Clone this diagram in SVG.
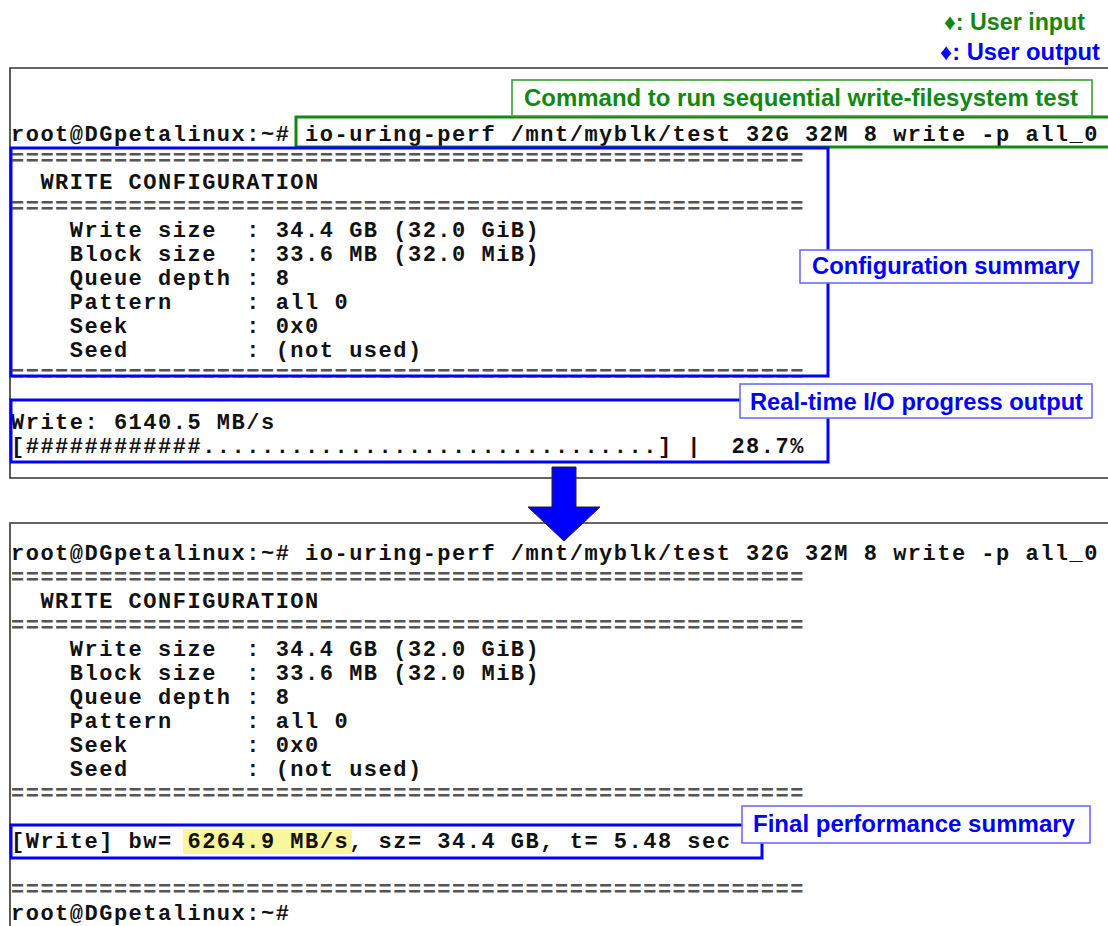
<svg xmlns="http://www.w3.org/2000/svg" width="1108" height="926" viewBox="0 0 1108 926">
  <style>
    .term { fill: none; stroke: #333; stroke-width: 1.6; }
    .tt { font-family: "Liberation Mono", "DejaVu Sans Mono", monospace; font-weight: bold; font-size: 22px; letter-spacing: 1.5px; fill: #111; white-space: pre; }
    .rule { fill: #555; }
    .lbl { font-family: "Liberation Sans", "DejaVu Sans", Arial, sans-serif; font-weight: bold; font-size: 23px; }
    .blue-box { fill: none; stroke: #0000ff; stroke-width: 3; }
    .green-box { fill: none; stroke: #108a10; stroke-width: 3; }
    .tag-blue { fill: #fff; stroke: #6b6bff; stroke-width: 1.6; }
    .tag-green { fill: #fff; stroke: #3a9e3a; stroke-width: 1.6; }
    .t-blue { fill: #0000ff; }
    .t-green { fill: #128812; }
  </style>

  <rect width="1108" height="926" fill="#fff"/>

  <!-- Legend -->
  <g id="legend">
    <text class="lbl t-green" x="944" y="30" textLength="141" lengthAdjust="spacingAndGlyphs">♦: User input</text>
    <text class="lbl t-blue" x="940" y="60" textLength="160" lengthAdjust="spacingAndGlyphs">♦: User output</text>
  </g>

  <!-- Terminal window 1: running test -->
  <g id="terminal-running">
    <path class="term" d="M1108 68 H10 V478 H1108"/>
    <text class="tt" x="11" y="141">root@DGpetalinux:~# io-uring-perf /mnt/myblk/test 32G 32M 8 write -p all_0</text>
    <text class="tt rule" x="11" y="165">======================================================</text>
    <text class="tt" x="11" y="189">  WRITE CONFIGURATION</text>
    <text class="tt rule" x="11" y="213">======================================================</text>
    <text class="tt" x="11" y="237">    Write size  : 34.4 GB (32.0 GiB)</text>
    <text class="tt" x="11" y="261">    Block size  : 33.6 MB (32.0 MiB)</text>
    <text class="tt" x="11" y="285">    Queue depth : 8</text>
    <text class="tt" x="11" y="309">    Pattern     : all 0</text>
    <text class="tt" x="11" y="333">    Seek        : 0x0</text>
    <text class="tt" x="11" y="357">    Seed        : (not used)</text>
    <text class="tt rule" x="11" y="381">======================================================</text>
    <text class="tt" x="11" y="429">Write: 6140.5 MB/s</text>
    <text class="tt" x="11" y="453">[############...............................] |  28.7%</text>
  </g>

  <!-- Terminal window 2: finished test -->
  <g id="terminal-finished">
    <path class="term" d="M1108 523 H10 V926"/>
    <rect x="183" y="829" width="169" height="25" fill="#fbf59c"/>
    <text class="tt" x="11" y="560">root@DGpetalinux:~# io-uring-perf /mnt/myblk/test 32G 32M 8 write -p all_0</text>
    <text class="tt rule" x="11" y="584">======================================================</text>
    <text class="tt" x="11" y="608">  WRITE CONFIGURATION</text>
    <text class="tt rule" x="11" y="632">======================================================</text>
    <text class="tt" x="11" y="656">    Write size  : 34.4 GB (32.0 GiB)</text>
    <text class="tt" x="11" y="680">    Block size  : 33.6 MB (32.0 MiB)</text>
    <text class="tt" x="11" y="704">    Queue depth : 8</text>
    <text class="tt" x="11" y="728">    Pattern     : all 0</text>
    <text class="tt" x="11" y="752">    Seek        : 0x0</text>
    <text class="tt" x="11" y="776">    Seed        : (not used)</text>
    <text class="tt rule" x="11" y="800">======================================================</text>
    <text class="tt" x="11" y="848">[Write] bw= 6264.9 MB/s, sz= 34.4 GB, t= 5.48 sec</text>
    <text class="tt rule" x="11" y="896">======================================================</text>
    <text class="tt" x="11" y="920">root@DGpetalinux:~#</text>
  </g>

  <!-- Highlight frames and transition arrow -->
  <g id="connectors">
    <rect class="green-box" x="296" y="117" width="830" height="30"/>
    <rect class="blue-box" x="11" y="148" width="817" height="228"/>
    <rect class="blue-box" x="11" y="400" width="817" height="62"/>
    <rect class="blue-box" x="11" y="825" width="751" height="33"/>
    <polygon points="552,467 576,467 576,507 600,507 564,541 528,507 552,507" fill="#0000ff" stroke="#222" stroke-width="1"/>
  </g>

  <!-- Callout tags -->
  <g id="tag-command">
    <rect class="tag-green" x="512" y="80" width="580" height="36"/>
    <text class="lbl t-green" x="524" y="106" textLength="554" lengthAdjust="spacingAndGlyphs">Command to run sequential write-filesystem test</text>
  </g>
  <g id="tag-config">
    <rect class="tag-blue" x="800" y="250" width="292" height="33"/>
    <text class="lbl t-blue" x="812" y="274" textLength="268" lengthAdjust="spacingAndGlyphs">Configuration summary</text>
  </g>
  <g id="tag-progress">
    <rect class="tag-blue" x="740" y="384" width="352" height="34"/>
    <text class="lbl t-blue" x="750" y="410" textLength="333" lengthAdjust="spacingAndGlyphs">Real-time I/O progress output</text>
  </g>
  <g id="tag-final">
    <rect class="tag-blue" x="742" y="806" width="348" height="37"/>
    <text class="lbl t-blue" x="753" y="832" textLength="322" lengthAdjust="spacingAndGlyphs">Final performance summary</text>
  </g>
</svg>
